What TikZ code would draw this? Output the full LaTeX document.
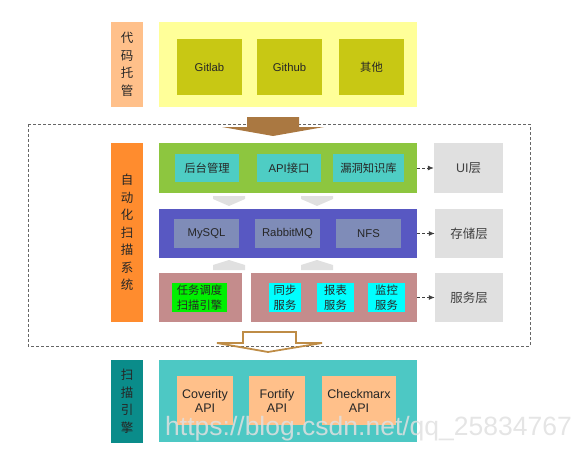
\documentclass[tikz,border=0pt]{standalone}
\usepackage{fontspec}
\setmainfont{Liberation Sans}
\newfontfamily\cjk{Noto Sans CJK SC}
\usetikzlibrary{positioning, arrows.meta}
\definecolor{Peach}{RGB}{255,192,138}
\definecolor{PaleYellow}{RGB}{255,255,153}
\definecolor{Olive}{RGB}{200,200,20}
\definecolor{Orange}{RGB}{255,140,46}
\definecolor{Grass}{RGB}{141,198,63}
\definecolor{Teal}{RGB}{78,205,196}
\definecolor{Violet}{RGB}{88,88,194}
\definecolor{Slate}{RGB}{127,140,184}
\definecolor{Rose}{RGB}{196,140,140}
\definecolor{Lime}{RGB}{0,240,0}
\definecolor{Aqua}{RGB}{0,255,255}
\definecolor{LayerGray}{RGB}{224,224,224}
\definecolor{DarkTeal}{RGB}{10,140,138}
\definecolor{Sea}{RGB}{77,200,196}
\definecolor{Bronze}{RGB}{170,120,65}
\definecolor{Tan}{RGB}{190,140,70}
\tikzset{
  wh/.style 2 args={minimum width=#1pt, minimum height=#2pt},
  base/.style={inner sep=0pt, align=center, text=black!85},
  side/.style={base, font=\cjk\fontsize{12.5}{17.5}\selectfont},
  item/.style={base, font=\fontsize{11.3}{15}\selectfont},
  api/.style={base, font=\fontsize{12.5}{14}\selectfont, fill=Peach},
  layername/.style={base, fill=LayerGray, text=black!75, font=\fontsize{12.5}{15}\selectfont},
  link/.style={dashed, dash pattern=on 3pt off 2pt, black!75, line width=0.8pt, -{Latex[length=6pt,width=5pt]}},
  flow/.style={fill=LayerGray}
}
\newcommand{\zh}[1]{{\cjk #1}}
\begin{document}
\begin{tikzpicture}[x=1pt,y=-1pt]
  \useasboundingbox (0,0) rectangle (584,452);
  % code hosting
  \node[side, fill=Peach, wh={32}{85}] (hostlbl) at (127,64.5) {代\\码\\托\\管};
  \node[base, fill=PaleYellow, wh={258}{85}] (host) at (288,64.5) {};
  \node[item, fill=Olive, wh={65}{56}] (gitlab) at (209.5,67) {Gitlab};
  \node[item, fill=Olive, wh={65}{56}] (github) at (289.5,67) {Github};
  \node[item, fill=Olive, wh={65}{56}] (other) at (371.5,67) {\zh{其他}};
  % scanning system frame
  \draw[dashed, dash pattern=on 3pt off 2pt, black!60, line width=0.8pt] (28,124) rectangle (530,346);
  \fill[Bronze] (247,117) -- (299,117) -- (299,127) -- (324,127) -- (273,136) -- (222,127) -- (247,127) -- cycle;
  \node[side, fill=Orange, wh={32}{179}] (syslbl) at (127,232.5) {自\\动\\化\\扫\\描\\系\\统};
  % UI layer
  \node[base, fill=Grass, wh={258}{50}] (ui) at (288,168) {};
  \node[item, fill=Teal, wh={64}{28}] (admin) at (207,168) {\zh{后台管理}};
  \node[item, fill=Teal, wh={64}{28}] (apiif) at (289,168) {API\zh{接口}};
  \node[item, fill=Teal, wh={71}{28}] (vulndb) at (368.5,168) {\zh{漏洞知识库}};
  \node[layername, wh={69}{50}] (uiname) at (468.5,168) {UI\zh{层}};
  \draw[link] (ui.east) -- (uiname.west);
  \fill[flow] (213,196) -- (245,196) -- (245,199) -- (229,206) -- (213,199) -- cycle;
  \fill[flow] (301,196) -- (333,196) -- (333,199) -- (317,206) -- (301,199) -- cycle;
  % storage layer
  \node[base, fill=Violet, wh={258}{49}] (store) at (288,233.5) {};
  \node[item, fill=Slate, wh={65}{29}] (mysql) at (206.5,233.5) {MySQL};
  \node[item, fill=Slate, wh={65}{29}] (mq) at (287.5,233.5) {RabbitMQ};
  \node[item, fill=Slate, wh={65}{29}] (nfs) at (368.5,233.5) {NFS};
  \node[layername, wh={68}{49}] (storename) at (469,233.5) {\zh{存储层}};
  \draw[link] (store.east) -- (storename.west);
  \fill[flow] (213,270) -- (213,265) -- (229,260) -- (245,265) -- (245,270) -- cycle;
  \fill[flow] (301,270) -- (301,265) -- (317,260) -- (333,265) -- (333,270) -- cycle;
  % service layer
  \node[base, fill=Rose, wh={83}{49}] (sched) at (200.5,297.5) {};
  \node[item, fill=Lime, wh={55}{29}, font=\cjk\fontsize{11.3}{15}\selectfont] (engine) at (199.5,297.5) {任务调度\\扫描引擎};
  \node[base, fill=Rose, wh={166}{49}] (svc) at (334,297.5) {};
  \node[item, fill=Aqua, wh={32}{29}, font=\cjk\fontsize{11.3}{15}\selectfont] (sync) at (285,297.5) {同步\\服务};
  \node[item, fill=Aqua, wh={37}{29}, font=\cjk\fontsize{11.3}{15}\selectfont] (report) at (335.5,297.5) {报表\\服务};
  \node[item, fill=Aqua, wh={37}{29}, font=\cjk\fontsize{11.3}{15}\selectfont] (monitor) at (386.5,297.5) {监控\\服务};
  \node[layername, wh={68}{49}] (svcname) at (469,297.5) {\zh{服务层}};
  \draw[link] (svc.east) -- (svcname.west);
  \draw[Tan, line width=1.8pt] (243,332) -- (296,332) -- (296,343) -- (322,343) -- (268,352) -- (217,343) -- (243,343) -- cycle;
  % scan engines
  \node[side, fill=DarkTeal, wh={32}{83}] (englbl) at (127,401.5) {扫\\描\\引\\擎};
  \node[base, fill=Sea, wh={258}{82}] (engines) at (288,401) {};
  \node[api, wh={56}{49}] (coverity) at (205,400.5) {Coverity\\API};
  \node[api, wh={56}{49}] (fortify) at (277,400.5) {Fortify\\API};
  \node[api, wh={74}{49}] (checkmarx) at (359,400.5) {Checkmarx\\API};
  \node[inner sep=0pt, anchor=base west, text=white!88!black, opacity=0.85, font=\fontsize{26.5}{30}\selectfont] (mark) at (165,435) {https://blog.csdn.net/qq\_25834767};
\end{tikzpicture}
\end{document}
